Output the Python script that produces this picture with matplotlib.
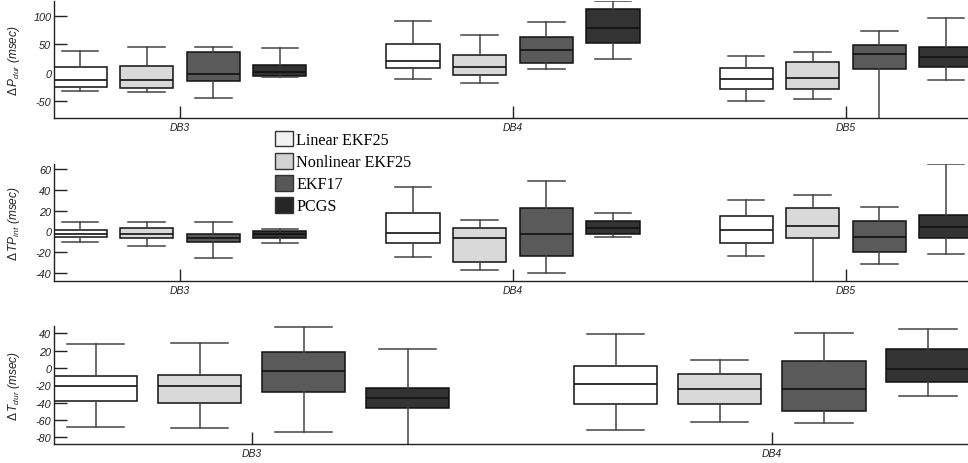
import matplotlib
matplotlib.use("Agg")
import matplotlib.pyplot as plt
from matplotlib.patches import Patch

plt.rcParams['font.family'] = ['Liberation Sans', 'DejaVu Sans']
plt.rcParams['mathtext.fontset'] = 'custom'
plt.rcParams['mathtext.rm'] = 'Liberation Sans'
plt.rcParams['mathtext.it'] = 'Liberation Sans:italic'

methods = ['Linear EKF25', 'Nonlinear EKF25', 'EKF17', 'PCGS']
box_colors = ['#ffffff', '#d9d9d9', '#5a5a5a', '#333333']
legend_colors = ['#f2f2f2', '#d2d2d2', '#575757', '#262626']

# ---- Panel 1: Delta P_dur ----
pdur_dbs = ['DB3', 'DB4', 'DB5']
# each row: one DB, columns: methods; values = [whislo, q1, med, q3, whishi]
pdur_db3 = [[-32, -25.6, -12.8, 9.5, 38.6], [-34, -26, -12, 11, 45],
            [-44, -14, -3, 36, 46], [-8, -5, 1, 13, 43]]
pdur_db4 = [[-11, 8, 20, 50, 91], [-18.6, -3.5, 10.5, 31.6, 66.7],
            [6, 16.5, 40, 63, 89], [24, 51.6, 78, 112, 126]]
pdur_db5 = [[-49, -29, -11, 7.7, 30], [-45.6, -29, -10, 18, 36],
            [-82, 6, 32.8, 48.6, 72.6], [-12, 10, 27, 46, 97]]
pdur_ticks = [-50, 0, 50, 100]

# ---- Panel 2: Delta TP_int ----
tpint_dbs = ['DB3', 'DB4', 'DB5']
tpint_db3 = [[-10.6, -5.5, -2, 1, 9.2], [-14, -6.7, -2.6, 3.5, 9.2],
             [-25.6, -10.6, -6, -2.6, 9.2], [-11.5, -6.4, -2.6, 0, 2.5]]
tpint_db4 = [[-24.7, -11.5, -1.6, 18, 43], [-37, -29, -6.4, 3.2, 11.5],
             [-40, -24, -2, 22.4, 49], [-5.8, -2, 3.8, 10, 17.6]]
tpint_db5 = [[-24, -11, 1.2, 15, 30], [-50, -6.4, 5.7, 22.4, 35],
             [-31.7, -20, -5.8, 10, 23.4], [-21.8, -6.7, 4, 16.3, 65]]
tpint_ticks = [-40, -20, 0, 20, 40, 60]

# ---- Panel 3: Delta T_dur ----
tdur_dbs = ['DB3', 'DB4']
tdur_db3 = [[-68, -37.8, -21, -8.9, 28], [-70, -40, -20.4, -8, 29],
            [-74, -28, -4, 19, 48], [-90, -46, -35, -23.5, 22]]
tdur_db4 = [[-72, -42, -19, 2.7, 39], [-63, -42, -24.7, -7.3, 8.9],
            [-64, -50, -24, 7.7, 40], [-32, -16.5, -0.8, 22, 45]]
tdur_ticks = [-80, -60, -40, -20, 0, 20, 40]

fig = plt.figure(figsize=(9.68, 4.64), dpi=100)

W = 968.0
H = 464.0
left = 54 / W
width = 1 - left


def make_ax(top_px, bot_px):
    return fig.add_axes([left, (H - bot_px) / H, width, (bot_px - top_px) / H])


ax1 = make_ax(2, 119)
ax2 = make_ax(165, 282.3)
ax3 = make_ax(327.3, 445)

offsets = [-0.3, -0.1, 0.1, 0.3]


def draw(ax, dbs, groups, ylim, yticks, ylabel, xlim):
    stats = []
    positions = []
    colors = []
    for gi, grp in enumerate(groups):
        for mi, v in enumerate(grp):
            stats.append(dict(whislo=v[0], q1=v[1], med=v[2], q3=v[3], whishi=v[4],
                              fliers=[]))
            positions.append(gi + 1 + offsets[mi])
            colors.append(box_colors[mi])
    res = ax.bxp(stats, positions=positions, widths=0.16, capwidths=0.11,
                 patch_artist=True, showfliers=False, manage_ticks=False,
                 boxprops=dict(edgecolor='#111111', linewidth=1.1),
                 medianprops=dict(color='#111111', linewidth=1.2),
                 whiskerprops=dict(color='#444444', linewidth=1.1, linestyle='-'),
                 capprops=dict(color='#444444', linewidth=1.1))
    for b, c in zip(res['boxes'], colors):
        b.set_facecolor(c)
    ax.set_xlim(*xlim)
    ax.set_ylim(*ylim)
    ax.set_yticks(yticks)
    ax.set_yticklabels([str(t) for t in yticks], fontstyle='italic', fontsize=7.8,
                       color='#222222')
    ax.set_xticks(range(1, len(dbs) + 1))
    ax.set_xticklabels(dbs, fontstyle='italic', fontsize=7.5, color='#222222')
    ax.tick_params(axis='both', direction='in', length=9, width=1, color='#222222')
    ax.tick_params(axis='y', pad=2)
    ax.tick_params(axis='x', pad=3)
    for s in ['top', 'right']:
        ax.spines[s].set_visible(False)
    for s in ['left', 'bottom']:
        ax.spines[s].set_color('#222222')
        ax.spines[s].set_linewidth(1)
    ax.set_ylabel(ylabel, fontstyle='italic', fontsize=8.6, color='#222222')
    ax.yaxis.set_label_coords(-0.035, 0.5)


draw(ax1, pdur_dbs, [pdur_db3, pdur_db4, pdur_db5], (-79.5, 126), pdur_ticks,
     r'$\Delta\,P_{dur}$ (msec)', (0.622, 3.366))
draw(ax2, tpint_dbs, [tpint_db3, tpint_db4, tpint_db5], (-48, 65), tpint_ticks,
     r'$\Delta\,TP_{int}$ (msec)', (0.622, 3.366))
draw(ax3, tdur_dbs, [tdur_db3, tdur_db4], (-88, 48.3), tdur_ticks,
     r'$\Delta\,T_{dur}$ (msec)', (0.62, 2.377))

handles = [Patch(facecolor=c, edgecolor='#333333', linewidth=1) for c in legend_colors]
fig.legend(handles, methods, loc='upper left', bbox_to_anchor=(275 / W, (H - 132) / H),
           frameon=False, borderpad=0, borderaxespad=0,
           prop=dict(family='Liberation Serif', size=11.6),
           handlelength=1.1, handleheight=1.1, handletextpad=0.22,
           labelspacing=0.3)

fig.savefig('out.png', dpi=100)
